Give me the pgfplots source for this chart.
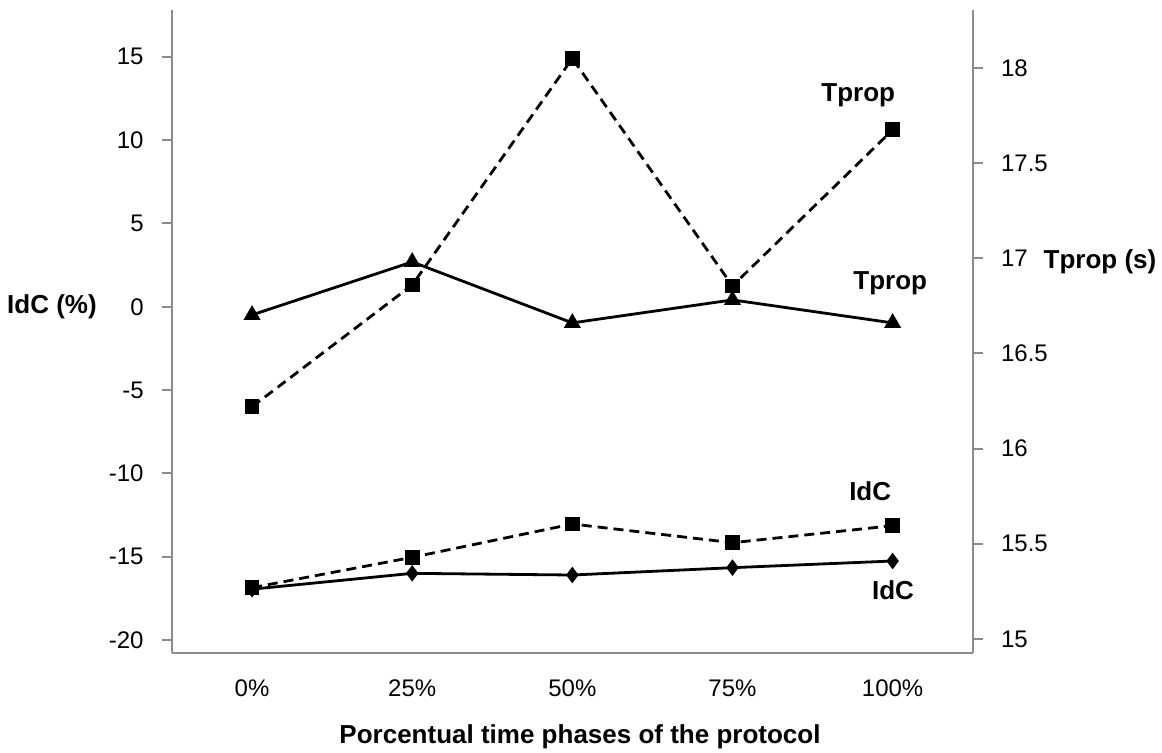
\documentclass[border=0pt]{standalone}
\usepackage{pgfplots}
\pgfplotsset{compat=1.18}
\usepackage{fontspec}
\setmainfont{Liberation Sans}
\definecolor{axisgray}{RGB}{140,140,140}
\tikzset{lab/.style={font=\fontsize{13}{15}\selectfont\bfseries}}
\begin{document}
\fontsize{12}{14}\selectfont
\begin{tikzpicture}
\path[use as bounding box] (0,0) rectangle (581pt,376.5pt);
\pgfplotsset{
  common/.style={
    scale only axis, width=400.35pt, height=321.5pt,
    at={(86pt,50pt)}, anchor=south west,
    xmin=-0.5, xmax=4.5,
    axis line style={draw=axisgray, line width=1pt, -},
    tick align=outside, major tick length=5pt,
    y tick style={draw=axisgray, line width=1pt},
    /pgf/number format/assume math mode=true,
    tick label style={font=\fontsize{12}{14}\selectfont},
    clip=false,
  },
  ln/.style={black, line width=1.4pt},
  ds/.style={black, line width=1.4pt, dash pattern=on 5pt off 3pt},
}
\begin{axis}[common,
  ymin=-20.78, ymax=17.81,
  axis x line*=bottom, axis y line*=left,
  xtick={0,1,2,3,4}, xticklabels={0\%,25\%,50\%,75\%,100\%},
  x tick style={draw=none},
  xticklabel style={yshift=-4pt},
  ytick={-20,-15,-10,-5,0,5,10,15}, yticklabels={-20,-15,-10,-5,0,5,10,15},
  yticklabel style={xshift=-5pt},
]
\addplot[ln, mark=triangle*, mark size=3.5pt] coordinates {(0,-0.49)(1,2.69)(2,-0.97)(3,0.41)(4,-0.97)};
\addplot[ds, mark=square*, mark size=3pt, mark options={solid}] coordinates {(0,-16.86)(1,-15.04)(2,-13.04)(3,-14.16)(4,-13.14)};
\addplot[ln, mark=diamond*, mark size=3pt] coordinates {(0,-16.95)(1,-16.0)(2,-16.1)(3,-15.66)(4,-15.26)};
\node[lab] at (axis description cs:-0.1499,0.538) {IdC (\%)};
\node[lab] at (axis description cs:1.159,0.608) {Tprop (s)};
\node[lab] at (axis description cs:0.5096,-0.1306) {Porcentual time phases of the protocol};
\node[lab] at (axis description cs:0.857,0.868) {Tprop};
\node[lab] at (axis description cs:0.897,0.575) {Tprop};
\node[lab] at (axis description cs:0.872,0.252) {IdC};
\node[lab] at (axis description cs:0.9005,0.098) {IdC};
\end{axis}
\begin{axis}[common,
  ymin=14.926, ymax=18.305,
  axis x line=none, axis y line*=right,
  ytick={15,15.5,16,16.5,17,17.5,18}, yticklabels={15,15.5,16,16.5,17,17.5,18},
  yticklabel style={xshift=5pt},
]
\addplot[ds, mark=square*, mark size=3pt, mark options={solid}] coordinates {(0,16.22)(1,16.86)(2,18.05)(3,16.855)(4,17.675)};
\end{axis}
\end{tikzpicture}
\end{document}
